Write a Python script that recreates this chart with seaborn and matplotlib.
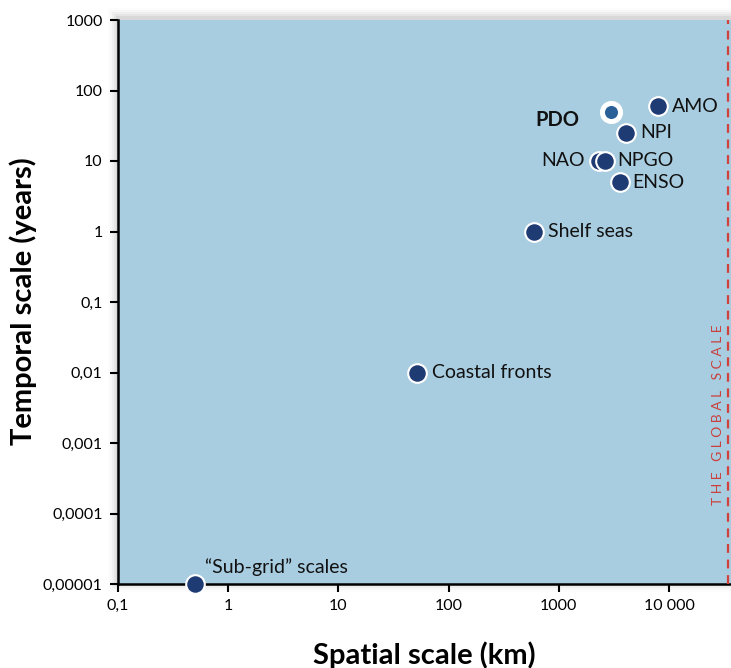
import matplotlib
matplotlib.use("Agg")
import matplotlib.pyplot as plt
import seaborn as sns
import pandas as pd
from matplotlib.ticker import FixedLocator, FixedFormatter, NullLocator
from matplotlib.patches import Rectangle

# ---- data ----
names = ["“Sub-grid” scales", "Coastal fronts", "Shelf seas", "NAO", "NPGO", "ENSO", "NPI", "AMO"]
spatial_km = [0.5, 52, 600, 2300, 2600, 3600, 4100, 8000]
temporal_yr = [0.00001, 0.01, 1, 10, 10, 5, 25, 60]

pdo_name = "PDO"
pdo_spatial = [2950]
pdo_temporal = [50]

x_ticks = [0.1, 1, 10, 100, 1000, 10000]
x_labels = ["0,1", "1", "10", "100", "1000", "10 000"]
y_ticks = [0.00001, 0.0001, 0.001, 0.01, 0.1, 1, 10, 100, 1000]
y_labels = ["0,00001", "0,0001", "0,001", "0,01", "0,1", "1", "10", "100", "1000"]
global_scale_km = 34500

sns.set_style("ticks")
plt.rcParams["font.family"] = ["Lato", "DejaVu Sans"]

fig = plt.figure(figsize=(7.31, 6.68), dpi=100)
W, H = 731, 668
ax_l, ax_b, ax_t = 118, 84, 648

# soft drop shadow behind the plot area
for i, a in enumerate([0.05, 0.04, 0.03, 0.02, 0.012]):
    g = 2 * (i + 1)
    fig.patches.append(Rectangle(((ax_l - g) / W, (ax_b - g + 2) / H),
                                 (W - ax_l + 2 * g) / W, (ax_t - ax_b + 2 * g) / H,
                                 transform=fig.transFigure, facecolor="black",
                                 alpha=a, edgecolor="none", zorder=-10))

ax = fig.add_axes([ax_l / W, ax_b / H, 1 - ax_l / W, (ax_t - ax_b) / H])
ax.set_zorder(5)
ax.set_facecolor("#a9cde0")

df = pd.DataFrame({"name": names, "x": spatial_km, "y": temporal_yr})
pdo = pd.DataFrame({"name": [pdo_name], "x": pdo_spatial, "y": pdo_temporal})

sns.scatterplot(data=df, x="x", y="y", ax=ax, s=180, color="#1f3b73",
                edgecolor="white", linewidth=1.5, zorder=5, clip_on=False)
sns.scatterplot(data=pdo, x="x", y="y", ax=ax, s=170, color="#2a5f98",
                edgecolor="white", linewidth=3.6, zorder=5, clip_on=False)

ax.set_xscale("log")
ax.set_yscale("log")
ax.set_xlim(0.1, 36500)
ax.set_ylim(0.00001, 1000)

ax.xaxis.set_major_locator(FixedLocator(x_ticks))
ax.xaxis.set_major_formatter(FixedFormatter(x_labels))
ax.xaxis.set_minor_locator(NullLocator())
ax.yaxis.set_major_locator(FixedLocator(y_ticks))
ax.yaxis.set_major_formatter(FixedFormatter(y_labels))
ax.yaxis.set_minor_locator(NullLocator())
ax.tick_params(axis="both", which="major", direction="out", length=6, width=1.5,
               labelsize=11.5, colors="black", pad=5)

for s in ["top", "right"]:
    ax.spines[s].set_visible(False)
for s in ["left", "bottom"]:
    ax.spines[s].set_linewidth(1.8)
    ax.spines[s].set_color("black")

ax.set_xlabel("Spatial scale (km)", fontsize=21, fontweight="bold", va="center", color="black")
ax.set_ylabel("Temporal scale (years)", fontsize=21, fontweight="bold", va="center", color="black")
ax.xaxis.set_label_coords(0.5, (584 - 655) / 564)
ax.yaxis.set_label_coords((23 - 118) / 613, 0.502)

# labels
px = 72 / 100.0
label_specs = {
    "“Sub-grid” scales": ((10, 17), "left"),
    "Coastal fronts": ((15, 0), "left"),
    "Shelf seas": ((14, 0), "left"),
    "NAO": ((-14, 0), "right"),
    "NPGO": ((13, 0), "left"),
    "ENSO": ((12, 0), "left"),
    "NPI": ((14, 0), "left"),
    "AMO": ((14, 0), "left"),
}
for n, xv, yv in zip(names, spatial_km, temporal_yr):
    (dx, dy), ha = label_specs[n]
    ax.annotate(n, (xv, yv), xytext=(dx * px, dy * px), textcoords="offset points",
                ha=ha, va="center", fontsize=14, color="#111111", zorder=6,
                annotation_clip=False)
ax.annotate(pdo_name, (pdo_spatial[0], pdo_temporal[0]), xytext=(-31 * px, -8 * px),
            textcoords="offset points", ha="right", va="center", fontsize=14.5,
            fontweight="bold", color="#111111", zorder=6)

ax.axvline(global_scale_km, color="#d0413c", lw=1.6, ls=(0, (4, 3)), zorder=3)
ax.text(0.978, 0.30, "T H E   G L O B A L   S C A L E", transform=ax.transAxes,
        rotation=90, ha="center", va="center", fontsize=10, color="#c9403c")

fig.savefig("out.png", dpi=100)
